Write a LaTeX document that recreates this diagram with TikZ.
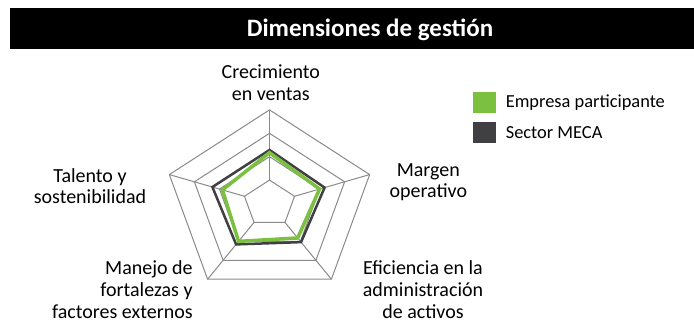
\documentclass[tikz,border=0pt]{standalone}
\usepackage{fontspec}
\setmainfont{Carlito}
\usetikzlibrary{positioning}
\definecolor{empresaGreen}{RGB}{124,192,64}
\definecolor{sectorGray}{RGB}{64,64,66}
\definecolor{gridGray}{RGB}{138,138,138}
\tikzstyle{axisLabel} = [
    align = center,
    inner sep = 0pt,
    font = \fontsize{10}{10.8}\selectfont
]
\tikzstyle{legendBox} = [
    rectangle,
    minimum width = 11.5pt,
    minimum height = 10.5pt,
    inner sep = 0pt
]
\tikzstyle{legendText} = [
    inner sep = 0pt,
    font = \fontsize{9.2}{11}\selectfont
]
\tikzstyle{gridLine} = [
    draw = gridGray,
    line width = 0.5pt
]
\tikzstyle{sectorLine} = [
    draw = sectorGray,
    line width = 1.25pt
]
\tikzstyle{empresaLine} = [
    draw = empresaGreen,
    line width = 1.75pt
]
\begin{document}
\begin{tikzpicture}[x = 0.5pt, y = -0.5pt]

                \useasboundingbox (0,0) rectangle (694,321);

                % title bar
                \fill (10,7.5) rectangle (694,49.3);
                \node [anchor = base, inner sep = 0pt, text = white, font = \bfseries\fontsize{12.5}{15}\selectfont] (title) at (370,36) {Dimensiones de gestión};

                % radar
                \begin{scope}[shift = {(269.5,203.5)}, x = 52.65pt, y = 46.8pt]
                    \foreach \r in {0.25, 0.5, 0.75, 1}
                        \draw [gridLine] (90:\r) -- (18:\r) -- (-54:\r) -- (-126:\r) -- (162:\r) -- cycle;
                    \foreach \a in {90, 18, -54, -126, 162}
                        \draw [gridLine] (\a:0.25) -- (\a:1);

                    % Sector MECA
                    \draw [sectorLine] (90:0.572) -- (18:0.55) -- (-54:0.51) -- (-126:0.54) -- (162:0.57) -- cycle;
                    % Empresa participante
                    \draw [empresaLine] (90:0.543) -- (18:0.50) -- (-54:0.455) -- (-126:0.50) -- (162:0.47) -- cycle;
                \end{scope}

                % axis labels
                \node [axisLabel] (growth) at (270.8,82.8) {Crecimiento\\en ventas};
                \node [axisLabel] (margin) at (428.3,182.2) {Margen\\operativo};
                \node [axisLabel] (efficiency) at (423,289.7) {Eficiencia en la\\administración\\de activos};
                \node [axisLabel, align = right, anchor = east] (management) at (193,289.7) {Manejo de\\fortalezas y\\factores externos};
                \node [axisLabel] (talent) at (90,186) {Talento y\\sostenibilidad};

                % legend
                \node [legendBox, fill = empresaGreen] (greenBox) at (484.2,102.2) {};
                \node [legendBox, fill = sectorGray, below = 4.15pt of greenBox] (darkBox) {};
                \node [legendText, right = 4.65pt of greenBox] (greenText) {Empresa participante};
                \node [legendText, right = 4.65pt of darkBox] (darkText) {Sector MECA};

            \end{tikzpicture}
\end{document}
